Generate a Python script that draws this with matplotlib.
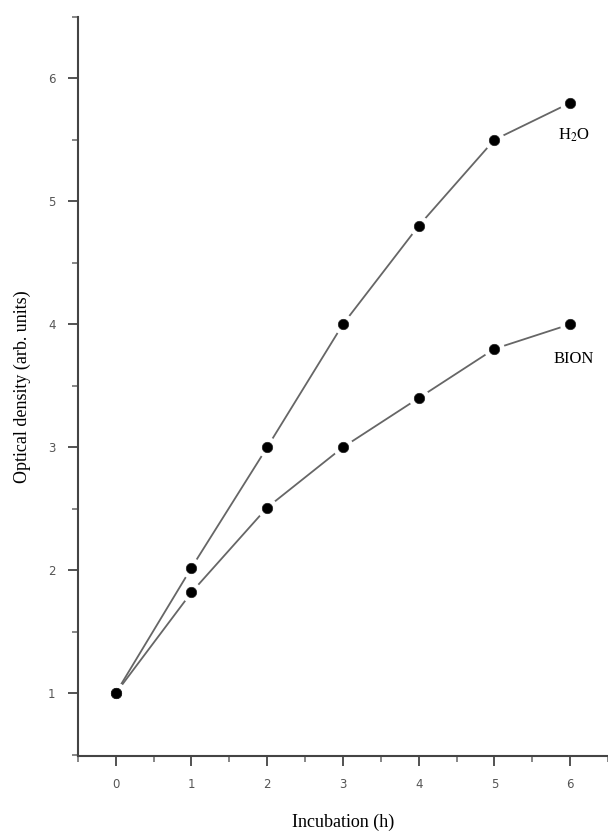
import matplotlib
matplotlib.use("Agg")
import matplotlib.pyplot as plt
from matplotlib.ticker import MultipleLocator

# incubation time (h) and optical density readings
hours = [0, 1, 2, 3, 4, 5, 6]
od_h2o = [1.0, 2.02, 3.0, 4.0, 4.8, 5.5, 5.8]
od_bion = [1.0, 1.82, 2.51, 3.0, 3.4, 3.8, 4.0]

fig = plt.figure(figsize=(6.08, 8.4), dpi=100)
ax = fig.add_axes([0.128, 0.1, 0.872, 0.88])

for od in (od_h2o, od_bion):
    # grey connecting line, white disc under each marker leaves a gap
    ax.plot(hours, od, color="#666666", lw=1.3, zorder=1)
    ax.plot(hours, od, ls="none", marker="o", ms=15, mfc="white",
            mec="none", zorder=2)
    ax.plot(hours, od, ls="none", marker="o", ms=7.5, mfc="black",
            mec="#222222", mew=0.5, zorder=3)

ax.set_xlim(-0.5, 6.5)
ax.set_ylim(0.49, 6.5)
ax.xaxis.set_major_locator(MultipleLocator(1))
ax.xaxis.set_minor_locator(MultipleLocator(0.5))
ax.yaxis.set_major_locator(MultipleLocator(1))
ax.yaxis.set_minor_locator(MultipleLocator(0.5))

for s in ("top", "right"):
    ax.spines[s].set_visible(False)
for s in ("left", "bottom"):
    ax.spines[s].set_color("#444444")
    ax.spines[s].set_linewidth(1.5)

ax.tick_params(which="major", direction="out", length=7, width=1.3,
               color="#444444", labelsize=8.5, labelcolor="#555555", pad=9)
ax.tick_params(which="minor", direction="out", length=4, width=1.1,
               color="#666666")

serif = "Liberation Serif"
ax.set_xlabel("Incubation (h)", family=serif, fontsize=13, labelpad=16)
ax.set_ylabel("Optical density (arb. units)", family=serif, fontsize=13,
              labelpad=12)

ax.text(6.05, 5.54, "H$_2$O", family=serif, fontsize=12, ha="center",
        va="center", math_fontfamily="stix")
ax.text(6.05, 3.72, "BION", family=serif, fontsize=12, ha="center",
        va="center")

fig.savefig("out.png", dpi=100)
